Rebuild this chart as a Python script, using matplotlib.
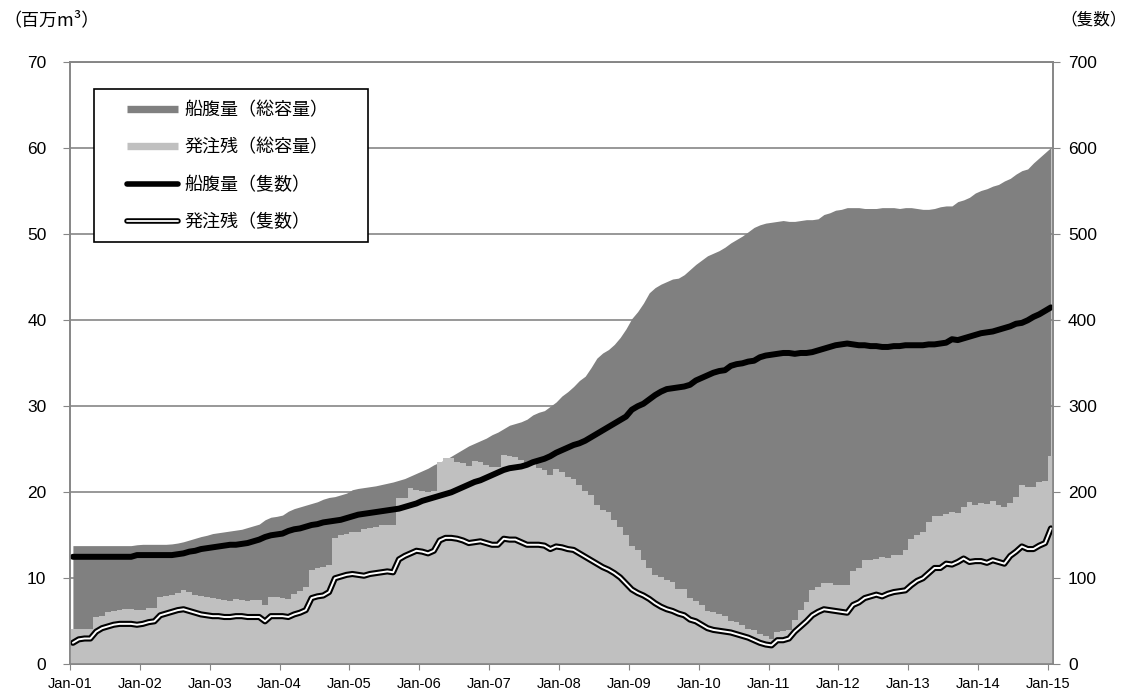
import numpy as np
import matplotlib
matplotlib.use('Agg')
import matplotlib.pyplot as plt
from matplotlib.lines import Line2D
from matplotlib.patches import Rectangle
from matplotlib.legend_handler import HandlerTuple

plt.rcParams['font.family'] = ['Noto Sans CJK JP', 'DejaVu Sans']

# monthly data, Jan-01 .. Jan-15 (169 months)
year_labels = ['Jan-%02d' % y for y in range(1, 16)]

# 船腹量(総容量), million m3
fleet_cap = [
    13.8, 13.8, 13.8, 13.8, 13.8, 13.8, 13.8, 13.8, 13.8, 13.8, 13.8, 13.9,
    13.95, 13.95, 13.95, 13.95, 13.95, 14.0, 14.1, 14.25, 14.45, 14.65, 14.85, 15.0,
    15.2, 15.3, 15.4, 15.5, 15.6, 15.7, 15.9, 16.1, 16.3, 16.8, 17.1, 17.2,
    17.35, 17.8, 18.1, 18.3, 18.5, 18.7, 18.9, 19.2, 19.4, 19.5, 19.7, 19.9,
    20.3, 20.45, 20.55, 20.65, 20.75, 20.9, 21.05, 21.2, 21.4, 21.6, 21.9, 22.2,
    22.5, 22.8, 23.2, 23.5, 23.8, 24.2, 24.6, 25.0, 25.4, 25.7, 26.0, 26.3,
    26.7, 27.0, 27.4, 27.8, 28.0, 28.2, 28.5, 29.0, 29.3, 29.5, 30.0, 30.5,
    31.2, 31.7, 32.3, 33.0, 33.5, 34.5, 35.6, 36.2, 36.6, 37.2, 38.0, 39.0,
    40.2, 41.0, 42.0, 43.2, 43.8, 44.2, 44.5, 44.8, 44.9, 45.3, 45.9, 46.5,
    47.0, 47.5, 47.8, 48.1, 48.5, 49.0, 49.4, 49.8, 50.3, 50.8, 51.1, 51.3,
    51.4, 51.5, 51.6, 51.5, 51.5, 51.6, 51.7, 51.7, 51.8, 52.3, 52.5, 52.8,
    52.9, 53.1, 53.1, 53.1, 53.0, 53.0, 53.0, 53.1, 53.1, 53.1, 53.0, 53.1,
    53.1, 53.0, 52.9, 52.9, 53.0, 53.2, 53.3, 53.3, 53.8, 54.0, 54.3, 54.8,
    55.1, 55.3, 55.6, 55.8, 56.2, 56.5, 57.0, 57.4, 57.6, 58.3, 58.9, 59.5,
    60.1,
]

# 発注残(総容量), million m3
order_cap = [
    4.1, 4.1, 4.1, 4.1, 5.5, 5.6, 6.1, 6.2, 6.3, 6.4, 6.4, 6.3,
    6.3, 6.5, 6.6, 7.8, 7.9, 8.1, 8.3, 8.6, 8.4, 8.1, 8.0, 7.8,
    7.7, 7.6, 7.5, 7.4, 7.6, 7.5, 7.4, 7.5, 7.5, 6.9, 7.8, 7.8,
    7.7, 7.6, 8.2, 8.5, 9.0, 11.0, 11.2, 11.3, 11.5, 14.7, 15.0, 15.2,
    15.4, 15.4, 15.7, 15.8, 16.0, 16.2, 16.2, 16.2, 19.3, 19.3, 20.5, 20.3,
    20.1, 20.0, 20.1, 23.5, 24.0, 24.0, 23.5, 23.4, 23.1, 23.6, 23.5, 23.2,
    23.0, 23.0, 24.3, 24.2, 24.1, 23.7, 23.4, 23.3, 22.8, 22.6, 22.0, 22.7,
    22.4, 21.8, 21.5, 20.85, 20.1, 19.7, 18.5, 17.95, 17.75, 16.8, 16.0, 15.0,
    13.7, 13.3, 12.1, 11.2, 10.4, 10.1, 9.8, 9.6, 8.8, 8.7, 7.7, 7.4,
    6.9, 6.2, 6.1, 5.8, 5.6, 5.0, 4.9, 4.6, 4.1, 4.0, 3.5, 3.3,
    3.0, 3.8, 3.9, 4.0, 5.2, 6.3, 7.3, 8.6, 9.0, 9.4, 9.4, 9.2,
    9.2, 9.2, 10.8, 11.2, 12.1, 12.1, 12.3, 12.5, 12.4, 12.7, 12.7, 13.3,
    14.6, 15.0, 15.4, 16.6, 17.2, 17.2, 17.5, 17.75, 17.6, 18.3, 18.9, 18.5,
    18.7, 18.6, 19.0, 18.5, 18.3, 18.8, 19.5, 20.85, 20.6, 20.6, 21.2, 21.35,
    24.2,
]

# 船腹量(隻数)
fleet_num = [
    125, 125, 125, 125, 125, 125, 125, 125, 125, 125, 125, 127,
    127, 127, 127, 127, 127, 127, 128, 129, 131, 132, 134, 135,
    136, 137, 138, 139, 139, 140, 141, 143, 145, 148, 150, 151,
    152, 155, 157, 158, 160, 162, 163, 165, 166, 167, 168, 170,
    172, 174, 175, 176, 177, 178, 179, 180, 181, 183, 185, 187,
    190, 192, 194, 196, 198, 200, 203, 206, 209, 212, 214, 217,
    220, 223, 226, 228, 229, 230, 232, 235, 237, 239, 242, 246,
    249, 252, 255, 257, 260, 264, 268, 272, 276, 280, 284, 288,
    296, 300, 303, 308, 313, 317, 320, 321, 322, 323, 325, 330,
    333, 336, 339, 341, 342, 347, 349, 350, 352, 353, 357, 359,
    360, 361, 362, 362, 361, 362, 362, 363, 365, 367, 369, 371,
    372, 373, 372, 371, 371, 370, 370, 369, 369, 370, 370, 371,
    371, 371, 371, 372, 372, 373, 374, 378, 377, 379, 381, 383,
    385, 386, 387, 389, 391, 393, 396, 397, 400, 404, 407, 411,
    415,
]

# 発注残(隻数)
order_num = [
    25, 29, 30, 30, 38, 42, 44, 46, 47, 47, 47, 46,
    47, 49, 50, 57, 59, 61, 63, 64, 62, 60, 58, 57,
    56, 56, 55, 55, 56, 56, 55, 55, 55, 50, 56, 56,
    56, 55, 58, 60, 63, 77, 79, 80, 84, 100, 102, 104,
    105, 104, 103, 105, 106, 107, 108, 107, 122, 126, 129, 132,
    131, 129, 132, 144, 147, 147, 146, 144, 141, 142, 143, 141,
    139, 139, 146, 145, 145, 142, 139, 139, 139, 138, 134, 137,
    136, 134, 133, 129, 125, 121, 117, 113, 110, 106, 101, 94,
    87, 83, 80, 76, 71, 67, 64, 62, 59, 57, 52, 50,
    46, 42, 40, 39, 38, 37, 35, 33, 31, 28, 25, 23,
    22, 28, 28, 30, 38, 44, 50, 57, 61, 64, 63, 62,
    61, 60, 69, 72, 77, 79, 81, 79, 82, 84, 85, 86,
    92, 97, 100, 106, 112, 112, 117, 116, 119, 123, 119, 120,
    120, 118, 121, 119, 117, 126, 131, 137, 134, 134, 138, 141,
    158,
]

n = len(fleet_cap)
x_mid = np.arange(n) + 0.5
edges = np.arange(n + 1)

DARK = '#808080'
LIGHT = '#c0c0c0'
GRID = '#868686'

fig = plt.figure(figsize=(11.29, 6.97), dpi=100)
ax = fig.add_axes([70 / 1129, 1 - 664.3 / 697, 982.7 / 1129, 602 / 697])
ax2 = ax.twinx()

ax.fill_between(x_mid, fleet_cap, color=DARK, lw=0, zorder=2)
ax.stairs(order_cap, edges, fill=True, color=LIGHT, lw=0, zorder=3)

ax.set_xlim(0, 168.8)
ax.set_ylim(0, 70)
ax.set_xticks(range(0, 169, 12))
ax.set_xticklabels(year_labels, family='Liberation Sans', fontsize=10.5)
ax.set_yticks(range(0, 71, 10))
ax.set_yticklabels([str(v) for v in range(0, 71, 10)], family='Liberation Sans', fontsize=12.5)
ax.set_axisbelow(True)
ax.yaxis.grid(True, color=GRID, lw=1.2, zorder=0)

ax2.set_ylim(0, 700)
ax2.set_yticks(range(0, 701, 100))
ax2.set_yticklabels([str(v) for v in range(0, 701, 100)], family='Liberation Sans', fontsize=12.5)

ax2.plot(x_mid, fleet_num, color='black', lw=4.3, solid_capstyle='round',
         solid_joinstyle='round')
ax2.plot(x_mid, order_num, color='black', lw=4.4, solid_capstyle='round',
         solid_joinstyle='round')
ax2.plot(x_mid, order_num, color='white', lw=1.4, solid_capstyle='round',
         solid_joinstyle='round')

for a in (ax, ax2):
    for s in a.spines.values():
        s.set_color(GRID)
        s.set_linewidth(1.2)
ax.tick_params(axis='y', direction='out', length=5, color=GRID, pad=12)
ax.tick_params(axis='x', direction='out', length=4, color=GRID, pad=5)
ax2.tick_params(axis='y', direction='out', length=5, color=GRID, pad=6)

fig.text(3 / 1129, 1 - 20 / 697, '（百万m³）', fontsize=13, va='center', ha='left')
fig.text(1127 / 1129, 1 - 20 / 697, '（隻数）', fontsize=12, va='center', ha='right')

# legend
box = Rectangle((94 / 1129, 1 - 242 / 697), 274 / 1129, 153 / 697,
                transform=fig.transFigure, facecolor='white', edgecolor='black',
                lw=1.2, zorder=1)
fig.add_artist(box)

h1 = Line2D([], [], color=DARK, lw=5.3, solid_capstyle='butt')
h2 = Line2D([], [], color=LIGHT, lw=5.3, solid_capstyle='butt')
h3 = Line2D([], [], color='black', lw=4.0, solid_capstyle='round')
h4 = (Line2D([], [], color='black', lw=4.0, solid_capstyle='round'),
      Line2D([], [], color='white', lw=1.3, solid_capstyle='round'))
fig.legend([h1, h2, h3, h4],
           ['船腹量（総容量）', '発注残（総容量）', '船腹量（隻数）', '発注残（隻数）'],
           handler_map={tuple: HandlerTuple(ndivide=1)},
           loc='upper left', bbox_to_anchor=(127 / 1129, 1 - 101 / 697),
           frameon=False, fontsize=13, borderpad=0, borderaxespad=0,
           handlelength=2.8, handletextpad=0.4, labelspacing=1.08)

fig.savefig('out.png', dpi=100)
